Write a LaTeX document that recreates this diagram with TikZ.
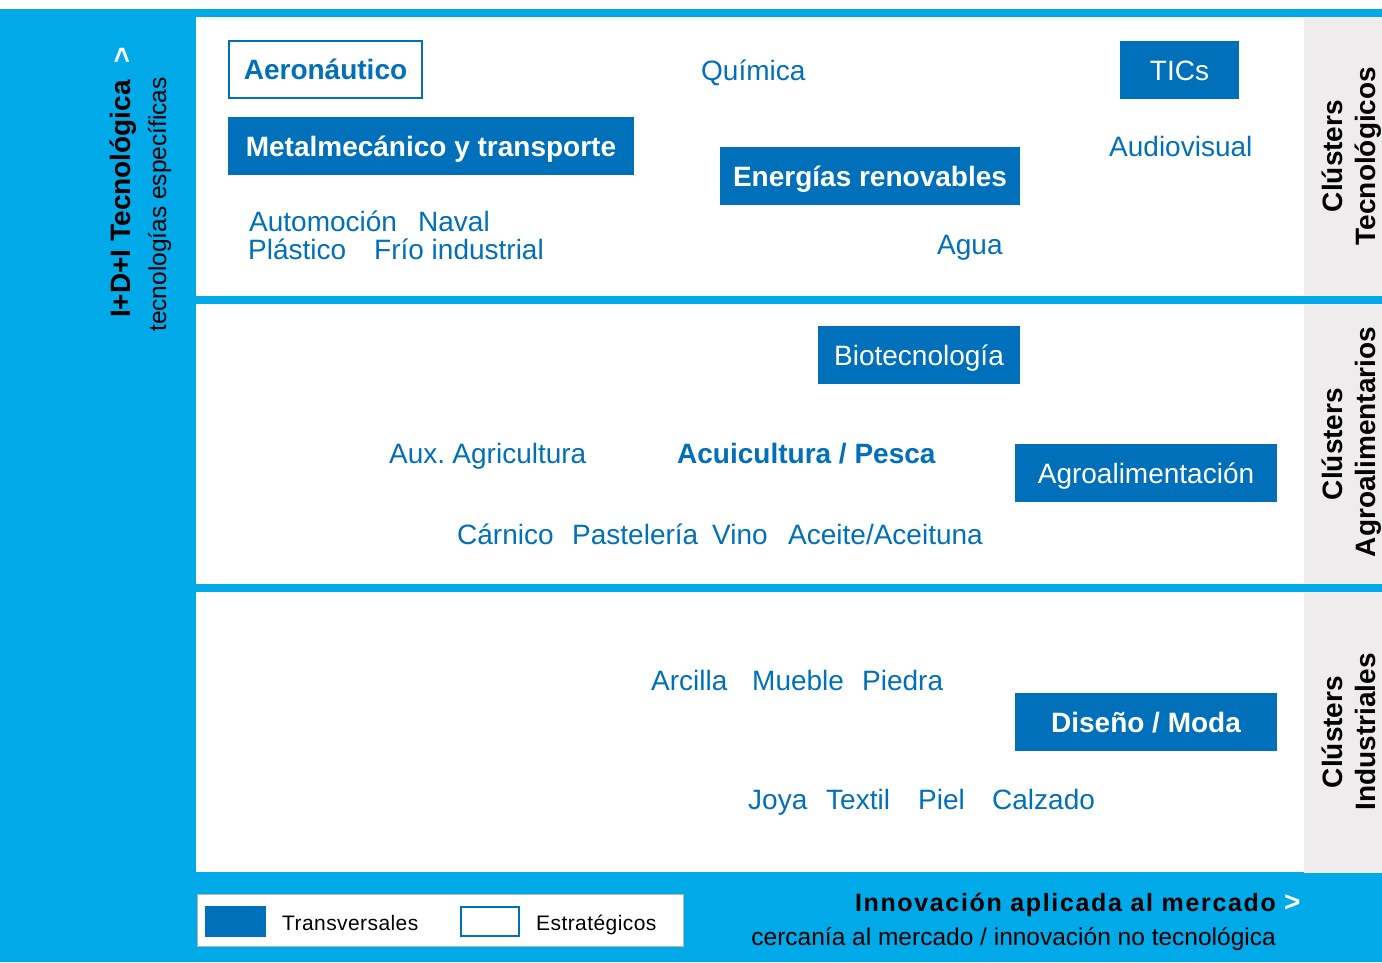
\documentclass[tikz,border=0pt]{standalone}
\usepackage{fontspec}
\setmainfont{Liberation Sans}
\newfontfamily\titlefont[LetterSpace=6.6]{Liberation Sans}
\newfontfamily\legfont[LetterSpace=2]{Liberation Sans}
\definecolor{bright}{HTML}{00A9E8}
\definecolor{dblue}{HTML}{0070BA}
\definecolor{lgray}{HTML}{EEECED}
\definecolor{legborder}{HTML}{B4B4B4}
\newcommand\myfs[1]{\fontsize{#1}{#1}\selectfont}
\tikzset{
  tbox/.style={fill=dblue, text=white, inner sep=0pt, minimum height=58pt,
    text height=20pt, text depth=0pt, font=\myfs{28}},
  sbox/.style={draw=dblue, line width=2pt, fill=white, text=dblue, inner sep=0pt,
    minimum height=57pt, text height=20pt, text depth=0pt, font=\myfs{28}\bfseries},
  btxt/.style={text=dblue, font=\myfs{28}, inner sep=0pt, anchor=base west},
  sidelab/.style={text=black, font=\myfs{28}\bfseries, inner sep=0pt, anchor=base, rotate=90},
}
\begin{document}
\begin{tikzpicture}[x=1pt,y=-1pt]
\useasboundingbox (0,0) rectangle (1382,962);
\fill[white] (0,0) rectangle (1382,962);
\fill[bright] (0,9) rectangle (1382,962);
% panels
\fill[white] (196,17) rectangle (1304,296);
\fill[white] (196,304) rectangle (1304,584);
\fill[white] (196,592) rectangle (1304,872);
\fill[lgray] (1304,17) rectangle (1382,296);
\fill[lgray] (1304,304) rectangle (1382,584);
\fill[lgray] (1304,592) rectangle (1382,873);

% left panel
\node[inner sep=0pt, anchor=base west, rotate=90, font=\myfs{28}\bfseries] (idi) at (130,318) {I+D+I Tecnológica};
\node[inner sep=0pt, anchor=base west, rotate=90, font=\myfs{28}\bfseries, text=white] (idiarrow) at (131,64) {>};
\node[inner sep=0pt, anchor=base west, rotate=90, font=\myfs{24.5}] (tesp) at (166,332) {tecnologías específicas};

% right labels
\node[sidelab] (c1a) at (1342,156) {Clústers};
\node[sidelab] (c1b) at (1375,156) {Tecnológicos};
\node[sidelab] (c2a) at (1342,444) {Clústers};
\node[sidelab] (c2b) at (1375,442) {Agroalimentarios};
\node[sidelab] (c3a) at (1342,732) {Clústers};
\node[sidelab] (c3b) at (1375,732) {Industriales};

% row 1
\node[sbox, minimum width=193pt] (aero) at (325.5,69.5) {Aeronáutico};
\node[tbox, minimum width=406pt, font=\myfs{28}\bfseries] (metal) at (431,146) {Metalmecánico y transporte};
\node[btxt] (auto) at (249,231) {Automoción};
\node[btxt] (naval) at (418,231) {Naval};
\node[btxt] (plast) at (248,259) {Plástico};
\node[btxt] (frio) at (374,259) {Frío industrial};
\node[btxt] (quim) at (701,80) {Química};
\node[tbox, minimum width=300pt, font=\myfs{28}\bfseries] (ener) at (870,176) {Energías renovables};
\node[btxt] (agua) at (937,254) {Agua};
\node[tbox, minimum width=119pt] (tics) at (1179.5,70) {TICs};
\node[btxt] (audio) at (1109,156) {Audiovisual};

% row 2
\node[tbox, minimum width=202pt] (bio) at (919,355) {Biotecnología};
\node[btxt] (aux) at (389,463) {Aux.\kern-0.5pt\ Agricultura};
\node[btxt, font=\myfs{28}\bfseries] (acui) at (677,463) {Acuicultura / Pesca};
\node[tbox, minimum width=262pt] (agro) at (1146,473) {Agroalimentación};
\node[btxt] (carn) at (457,544) {Cárnico};
\node[btxt] (past) at (572,544) {Pastelería};
\node[btxt] (vino) at (712,544) {Vino};
\node[btxt] (acei) at (788,544) {Aceite/Aceituna};

% row 3
\node[btxt] (arci) at (651,690) {Arcilla};
\node[btxt] (mueb) at (752,690) {Mueble};
\node[btxt] (pied) at (862,690) {Piedra};
\node[tbox, minimum width=262pt, font=\myfs{28}\bfseries] (dise) at (1146,722) {Diseño / Moda};
\node[btxt] (joya) at (748,809) {Joya};
\node[btxt] (text) at (826,809) {Textil};
\node[btxt] (piel) at (918,809) {Piel};
\node[btxt] (calz) at (992,809) {Calzado};

% legend
\node[draw=legborder, line width=1.5pt, fill=white, inner sep=0pt, minimum width=486pt, minimum height=52pt] (legend) at (440.5,920.5) {};
\node[fill=dblue, inner sep=0pt, minimum width=61pt, minimum height=31pt] (legT) at (235.5,921.5) {};
\node[draw=dblue, line width=2pt, fill=white, inner sep=0pt, minimum width=58pt, minimum height=29pt] (legE) at (490,921.5) {};
\node[inner sep=0pt, anchor=base west, font=\legfont\myfs{21}] (legTt) at (282,930.5) {Transversales};
\node[inner sep=0pt, anchor=base west, font=\legfont\myfs{21}] (legEt) at (536,930.5) {Estratégicos};

% bottom titles
\node[inner sep=0pt, anchor=base east, font=\titlefont\myfs{25}\bfseries] (innov) at (1276,911) {Innovación aplicada al mercado};
\node[inner sep=0pt, anchor=base west, font=\myfs{28}\bfseries, text=white] (innovarrow) at (1284,911) {>};
\node[inner sep=0pt, anchor=base east, font=\myfs{24.5}] (cerc) at (1276,945) {cercanía al mercado / innovación no tecnológica};
\end{tikzpicture}
\end{document}
